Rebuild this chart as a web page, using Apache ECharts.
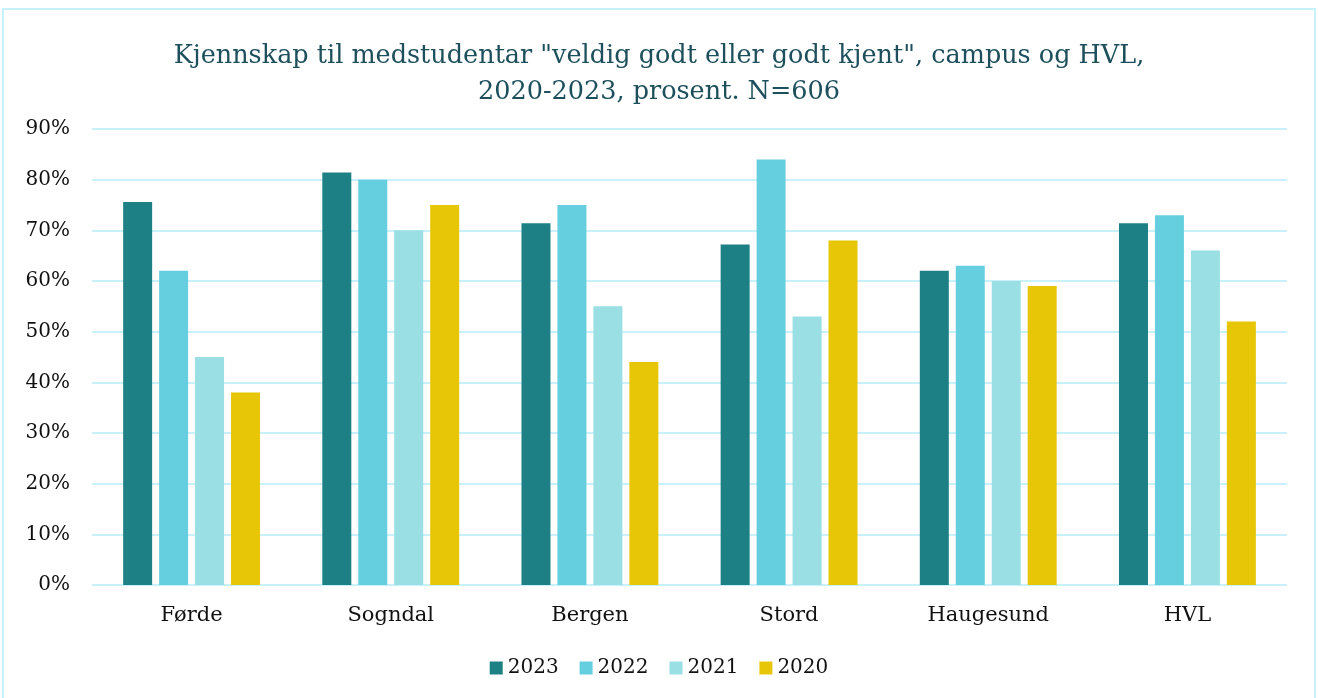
<!DOCTYPE html>
<html><head><meta charset="utf-8">
<script src="https://cdn.jsdelivr.net/npm/echarts@6/dist/echarts.min.js"></script>
<style>html,body{margin:0;padding:0;background:#fff}#c{width:1318px;height:698px}</style>
</head><body><div id="c"></div>
<script>
const categories = ['Førde','Sogndal','Bergen','Stord','Haugesund','HVL'];
const seriesNames = ['2023','2022','2021','2020'];
const v2023 = [75.6, 81.4, 71.4, 67.2, 62, 71.4];
const v2022 = [62, 80, 75, 84, 63, 73];
const v2021 = [45, 70, 55, 53, 60, 66];
const v2020 = [38, 75, 44, 68, 59, 52];
const yTicks = [0,10,20,30,40,50,60,70,80,90];

const colors = ['#1c8085','#66cfdf','#9adfe3','#e6c607'];
const font = "Georgia, 'DejaVu Serif', serif";
const values = [v2023, v2022, v2021, v2020];

const chart = echarts.init(document.getElementById('c'));
chart.setOption({
  animation:false,
  title:{
    text:'Kjennskap til medstudentar "veldig godt eller godt kjent", campus og HVL,\n2020-2023, prosent. N=606',
    left:'center', top:33,
    textStyle:{fontFamily:font, fontSize:25.5, fontWeight:'normal', color:'#1d4f5c', lineHeight:36}
  },
  graphic:[{type:'rect', shape:{x:3,y:9,width:1312,height:700}, style:{fill:'none', stroke:'#c9f1fb', lineWidth:2}, silent:true}],
  legend:{
    bottom:15, left:'center', itemWidth:13, itemHeight:13, itemGap:21,
    icon:'rect',
    textStyle:{fontFamily:font, fontSize:20, color:'#111'},
    data:seriesNames
  },
  grid:{left:92, right:31, top:129, bottom:113},
  xAxis:{
    type:'category', data:categories,
    axisLine:{show:false}, axisTick:{show:false},
    axisLabel:{fontFamily:font, fontSize:21, color:'#111', margin:20}
  },
  yAxis:{
    type:'value', min:0, max:90, interval:10,
    axisLine:{show:false}, axisTick:{show:false},
    axisLabel:{fontFamily:font, fontSize:20, color:'#111', margin:22, formatter: v => yTicks.includes(v) ? v + '%' : ''},
    splitLine:{lineStyle:{color:'#c9f1fb', width:2}}
  },
  series: seriesNames.map((n,i)=>({
    name:n, type:'bar', data:values[i],
    barWidth:29, barGap:'24%', barCategoryGap:'31%',
    itemStyle:{color:colors[i]}
  }))
});
</script></body></html>
